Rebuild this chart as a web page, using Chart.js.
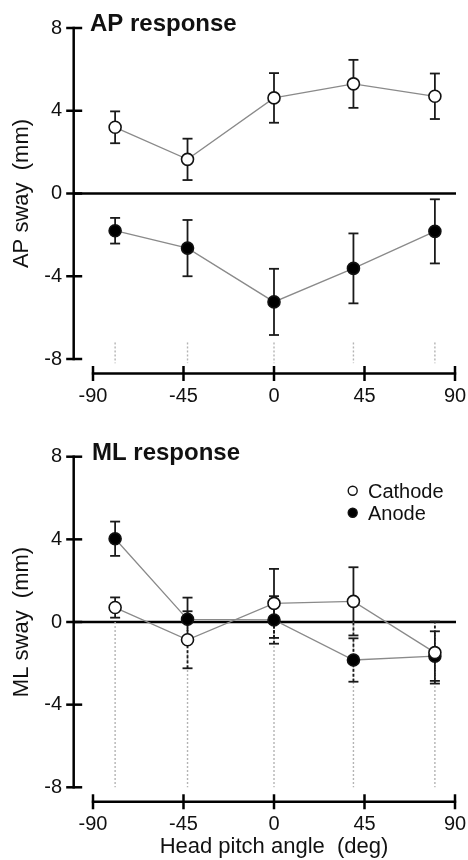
<!DOCTYPE html>
<html><head><meta charset="utf-8">
<script src="https://cdn.jsdelivr.net/npm/chart.js@4.4.1/dist/chart.umd.min.js"></script>
<style>
html,body{margin:0;padding:0;background:#fff;}
#wrap{width:468px;height:860px;position:relative;overflow:hidden;}
.panel{position:absolute;left:0;width:468px;height:430px;}
canvas{display:block;}
</style></head><body>
<div id="wrap">
<div class="panel" style="top:0"><canvas id="ap" width="468" height="430"></canvas></div>
<div class="panel" style="top:430px"><canvas id="ml" width="468" height="430"></canvas></div>
</div>
<script>
// ---- data ----
const angles = [-79, -43, 0, 39.5, 80];
const xTicks = [-90, -45, 0, 45, 90];
const yTicks = [-8, -4, 0, 4, 8];
const seriesNames = ['Cathode', 'Anode'];

const apCathode    = [3.2, 1.65, 4.62, 5.3, 4.7];
const apCathodeErr = [0.77, 1.0, 1.2, 1.16, 1.1];
const apAnode      = [-1.8, -2.64, -5.24, -3.62, -1.83];
const apAnodeErr   = [0.62, 1.36, 1.6, 1.69, 1.55];

const mlCathode    = [0.7, -0.86, 0.9, 1.0, -1.48];
const mlCathodeErr = [0.49, 1.38, 1.67, 1.65, 1.5];
const mlAnode      = [4.03, 0.13, 0.1, -1.84, -1.65];
const mlAnodeErr   = [0.83, 1.05, 1.15, 1.05, 1.2];

// ---- rendering ----
const FONT = "'Liberation Sans', Arial, Helvetica, sans-serif";
Chart.defaults.font.family = FONT;
Chart.defaults.color = '#111';

const decor = {
  id: 'decor',
  beforeDatasetsDraw(chart) {
    const {ctx, scales: {x, y}} = chart;
    const c = chart.options.plugins.decor;
    ctx.save();
    // zero line
    ctx.strokeStyle = '#000'; ctx.lineWidth = 2.5; ctx.lineCap = 'butt';
    ctx.beginPath();
    ctx.moveTo(x.getPixelForValue(-99.6), y.getPixelForValue(0));
    ctx.lineTo(x.getPixelForValue(90.5), y.getPixelForValue(0));
    ctx.stroke();
    // dotted guides
    const gHi = Math.max(c.guide[0], c.guide[1]), gLo = Math.min(c.guide[0], c.guide[1]);
    ctx.setLineDash([2, 2]); ctx.strokeStyle = '#b4b4b4'; ctx.lineWidth = 1.4;
    angles.forEach(a => {
      const px = x.getPixelForValue(a);
      ctx.beginPath();
      ctx.moveTo(px, y.getPixelForValue(gHi));
      ctx.lineTo(px, y.getPixelForValue(gLo));
      ctx.stroke();
    });
    ctx.setLineDash([]);
    // error bars
    ctx.strokeStyle = '#1a1a1a'; ctx.lineWidth = 1.8;
    const seg = (px, a, b, dashed) => {
      if (b <= a) return;
      ctx.setLineDash(dashed ? [3, 2] : []);
      ctx.beginPath();
      ctx.moveTo(px, y.getPixelForValue(a));
      ctx.lineTo(px, y.getPixelForValue(b));
      ctx.stroke();
    };
    chart.data.datasets.forEach(ds => {
      ds.data.forEach((p, i) => {
        const e = ds.err[i];
        const px = x.getPixelForValue(p.x);
        const lo = p.y - e, hi = p.y + e;
        seg(px, Math.max(lo, gHi), hi, false);
        seg(px, lo, Math.min(hi, gLo), false);
        seg(px, Math.max(lo, gLo), Math.min(hi, gHi), true);
        ctx.setLineDash([]);
        [lo, hi].forEach(v => {
          const py = y.getPixelForValue(v);
          ctx.beginPath(); ctx.moveTo(px - 5, py); ctx.lineTo(px + 5, py); ctx.stroke();
        });
      });
    });
    ctx.restore();
  },
  afterDraw(chart) {
    const {ctx, scales: {x, y}} = chart;
    const c = chart.options.plugins.decor;
    ctx.save();
    ctx.strokeStyle = '#000'; ctx.lineWidth = 2.5; ctx.lineCap = 'butt';
    // y axis
    const x0 = x.getPixelForValue(-99.6);
    ctx.beginPath();
    ctx.moveTo(x0, y.getPixelForValue(yTicks[yTicks.length - 1]) - 1.2);
    ctx.lineTo(x0, y.getPixelForValue(yTicks[0]) + 1.2);
    ctx.stroke();
    yTicks.forEach(v => {
      const py = y.getPixelForValue(v);
      ctx.beginPath(); ctx.moveTo(x0 - 7.5, py); ctx.lineTo(x0 + 8.5, py); ctx.stroke();
    });
    // x axis (offset below the plot)
    const y0 = y.getPixelForValue(-8.7);
    ctx.beginPath();
    ctx.moveTo(x.getPixelForValue(xTicks[0]) - 1.2, y0);
    ctx.lineTo(x.getPixelForValue(xTicks[xTicks.length - 1]) + 1.2, y0);
    ctx.stroke();
    xTicks.forEach(v => {
      const px = x.getPixelForValue(v);
      ctx.beginPath(); ctx.moveTo(px, y0 - 7.5); ctx.lineTo(px, y0 + 7.5); ctx.stroke();
    });
    // panel title
    ctx.fillStyle = '#111';
    ctx.font = 'bold 24px ' + FONT;
    ctx.textBaseline = 'alphabetic'; ctx.textAlign = 'left';
    ctx.fillText(c.title, c.titleX, y.getPixelForValue(8) + 3);
    // legend
    if (c.legend) {
      const lx = 352.7;
      const y8 = y.getPixelForValue(8);
      const rows = [[y8 + 34, '#fff'], [y8 + 56, '#000']];
      ctx.font = '20px ' + FONT;
      rows.forEach((r, i) => {
        ctx.beginPath(); ctx.arc(lx, r[0], 4.5, 0, Math.PI * 2);
        ctx.fillStyle = r[1]; ctx.fill();
        ctx.lineWidth = 1.4; ctx.strokeStyle = '#111'; ctx.stroke();
        ctx.fillStyle = '#111';
        ctx.fillText(seriesNames[i], 368, r[0] + 7);
      });
    }
    ctx.restore();
  }
};

function makeChart(id, cfg) {
  const mk = (vals, errs, i, fill) => ({
    label: seriesNames[i],
    data: angles.map((a, k) => ({x: a, y: vals[k]})),
    err: errs,
    borderColor: '#8a8a8a',
    borderWidth: 1.3,
    pointRadius: 6,
    pointHoverRadius: 6,
    pointBackgroundColor: fill,
    pointBorderColor: '#111',
    pointBorderWidth: 1.6,
    showLine: true,
    tension: 0,
    fill: false
  });
  return new Chart(document.getElementById(id), {
    type: 'line',
    data: {
      datasets: [
        mk(cfg.cathode, cfg.cathodeErr, 0, '#fff'),
        mk(cfg.anode, cfg.anodeErr, 1, '#000')
      ]
    },
    options: {
      responsive: false,
      animation: false,
      devicePixelRatio: 1,
      layout: {padding: {top: cfg.padTop, right: 13, left: 0, bottom: 0}},
      plugins: {
        legend: {display: false},
        tooltip: {enabled: false},
        decor: cfg.decor
      },
      scales: {
        x: {
          type: 'linear', min: -90, max: 90,
          afterBuildTicks: s => { s.ticks = xTicks.map(v => ({value: v})); },
          afterFit: s => { s.height = cfg.xHeight; s.paddingLeft = 0; s.paddingRight = 0; s.paddingTop = 0; s.paddingBottom = 0; },
          grid: {display: false, drawTicks: false},
          border: {display: false},
          ticks: {padding: 25, font: {size: 20}, color: '#111', maxRotation: 0, autoSkip: false},
          title: {display: !!cfg.xTitle, text: cfg.xTitle || '', font: {size: 22}, color: '#111', padding: {top: 0, bottom: 0}}
        },
        y: {
          type: 'linear', min: -8, max: 8,
          afterBuildTicks: s => { s.ticks = yTicks.map(v => ({value: v})); },
          afterFit: s => { s.width = 93; s.paddingLeft = 0; s.paddingRight = 0; s.paddingTop = 0; s.paddingBottom = 0; },
          grid: {display: false, drawTicks: false},
          border: {display: false},
          ticks: {padding: 31, font: {size: 20}, color: '#111'},
          title: {display: true, text: cfg.yTitle, font: {size: 22}, color: '#111', padding: {top: 9, bottom: 0}}
        }
      }
    },
    plugins: [decor]
  });
}

makeChart('ap', {
  cathode: apCathode, cathodeErr: apCathodeErr, anode: apAnode, anodeErr: apAnodeErr,
  padTop: 28, xHeight: 71, yTitle: 'AP sway  (mm)', xTitle: null,
  decor: {guide: [-7.2, -8.2], title: 'AP response', titleX: 90, legend: false}
});
makeChart('ml', {
  cathode: mlCathode, cathodeErr: mlCathodeErr, anode: mlAnode, anodeErr: mlAnodeErr,
  padTop: 26.7, xHeight: 72.7, yTitle: 'ML sway  (mm)', xTitle: 'Head pitch angle  (deg)',
  decor: {guide: [0, -8], title: 'ML response', titleX: 92, legend: true}
});
</script>
</body></html>
